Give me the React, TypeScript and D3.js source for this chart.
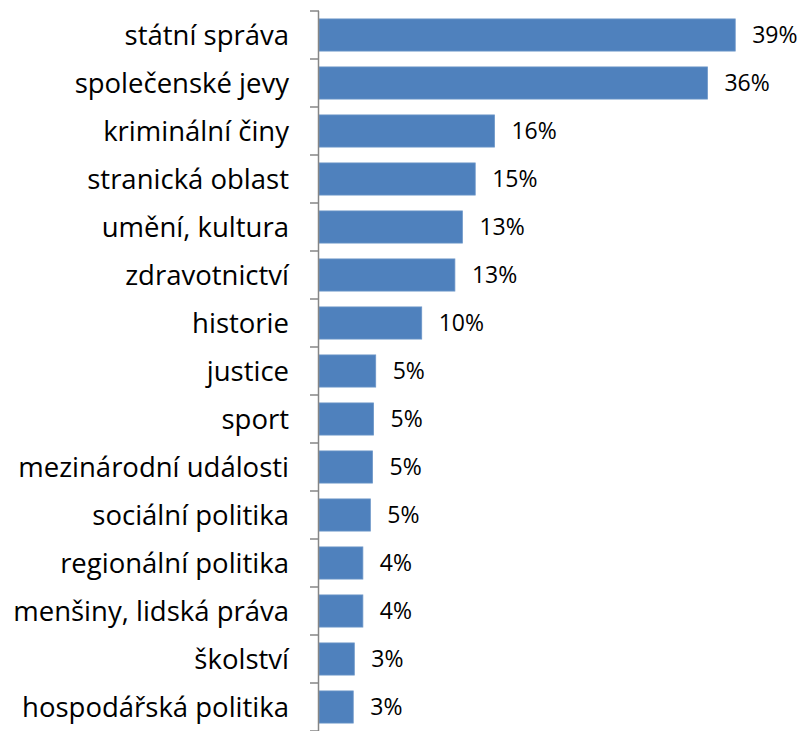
import * as d3 from "d3";
import { useEffect, useRef } from "react";

// kategorie (shora dolů)
const categories = [
  "státní správa",
  "společenské jevy",
  "kriminální činy",
  "stranická oblast",
  "umění, kultura",
  "zdravotnictví",
  "historie",
  "justice",
  "sport",
  "mezinárodní události",
  "sociální politika",
  "regionální politika",
  "menšiny, lidská práva",
  "školství",
  "hospodářská politika",
];

// podíly v % (odhad z délky sloupců)
const values = [38.9, 36.3, 16.4, 14.6, 13.4, 12.7, 9.6, 5.3, 5.1, 5.0, 4.8, 4.1, 4.1, 3.3, 3.2];

const FONT = "'Open Sans', sans-serif";

const App = () => {
  const svgRef = useRef<SVGSVGElement>(null);

  const W = 802;
  const H = 731;
  const margin = { top: 11, right: 0, bottom: 0, left: 319 };

  useEffect(() => {
    const svg = d3.select(svgRef.current);
    svg.selectAll("*").remove();

    const data = categories.map((c, i) => ({ category: c, value: values[i] }));

    //svislá škála kategorií
    const yScale = d3.scaleBand()
      .domain(categories)
      .range([margin.top, margin.top + 48 * categories.length])
      .paddingInner(0.33)
      .paddingOuter(0.165);

    //vodorovná škála hodnot
    const xScale = d3.scaleLinear()
      .domain([0, 40])
      .range([margin.left, margin.left + 428]);

    //sloupce
    svg.selectAll(".bar")
      .data(data)
      .enter()
      .append("rect")
      .attr("class", "bar")
      .attr("x", xScale(0))
      .attr("y", d => yScale(d.category)!)
      .attr("width", d => xScale(d.value) - xScale(0))
      .attr("height", yScale.bandwidth())
      .attr("fill", "#4f81bd")
      .attr("stroke", "#6c96c8")
      .attr("stroke-width", 0.8);

    //osa y
    const step = yScale.step();
    const ticks = d3.range(categories.length + 1).map(i => margin.top + i * step);
    svg.append("line")
      .attr("x1", xScale(0) - 0.5)
      .attr("x2", xScale(0) - 0.5)
      .attr("y1", margin.top)
      .attr("y2", H)
      .attr("stroke", "#868686")
      .attr("stroke-width", 1.5);
    svg.selectAll(".tick")
      .data(ticks)
      .enter()
      .append("line")
      .attr("class", "tick")
      .attr("x1", xScale(0) - 9)
      .attr("x2", xScale(0))
      .attr("y1", d => d)
      .attr("y2", d => d)
      .attr("stroke", "#868686")
      .attr("stroke-width", 1.5);

    //popisky kategorií
    svg.selectAll(".cat-label")
      .data(data)
      .enter()
      .append("text")
      .attr("class", "cat-label")
      .attr("x", xScale(0) - 30)
      .attr("y", d => yScale(d.category)! + yScale.bandwidth() / 2)
      .attr("dy", "0.36em")
      .attr("text-anchor", "end")
      .style("font-family", FONT)
      .style("font-size", "27.5px")
      .style("fill", "#000")
      .text(d => d.category);

    //popisky hodnot
    svg.selectAll(".value-label")
      .data(data)
      .enter()
      .append("text")
      .attr("class", "value-label")
      .attr("x", d => xScale(d.value) + 17)
      .attr("y", d => yScale(d.category)! + yScale.bandwidth() / 2)
      .attr("dy", "0.36em")
      .style("font-family", FONT)
      .style("font-size", "23px")
      .style("fill", "#000")
      .text(d => `${Math.round(d.value)}%`);
  }, []);

  return (
    <svg
      ref={svgRef}
      width={W}
      height={H}
      style={{ position: "absolute", left: 0, top: 0, background: "#fff" }}
    />
  );
};

export default App;
